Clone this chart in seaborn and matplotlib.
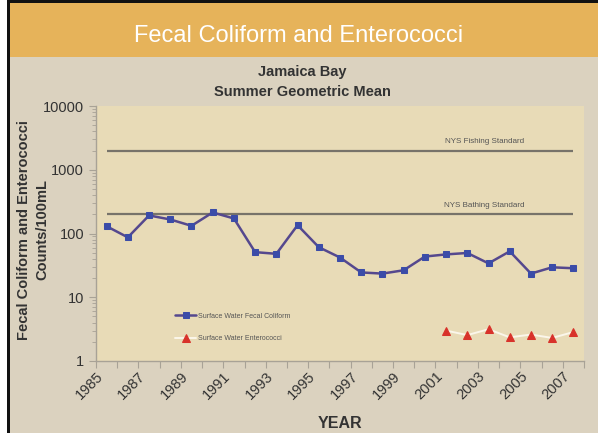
#!/usr/bin/env python3
"""
Jamaica Bay fecal coliform / enterococci summer geometric means (log scale).
"""

import numpy as np
import pandas as pd
import matplotlib
matplotlib.use("Agg")
import matplotlib.pyplot as plt
from matplotlib.patches import Rectangle
from matplotlib.ticker import LogLocator, NullFormatter, FixedLocator
import seaborn as sns

# === Data ===
fecal_years = list(range(1985, 2008))
fecal_values = [130, 87, 192, 166, 132, 214, 172, 51, 48, 135, 61, 42,
                24.5, 23.5, 26.5, 43.5, 47, 49.5, 34, 52.5, 23.5, 29.5, 28.5]
entero_years = list(range(2001, 2008))
entero_values = [3.0, 2.55, 3.15, 2.35, 2.6, 2.3, 2.85]
fishing_std = 2000
bathing_std = 200
tick_years = list(range(1985, 2009))
label_years = list(range(1985, 2009, 2))

# === Style ===
FIG_BG = "#dbd2bf"
PLOT_BG = "#e8dbb7"
HEADER = "#e6b35a"
FECAL_LINE = "#55488e"
FECAL_MARK = "#3b4ca8"
ENTERO_MARK = "#d8322a"
STD_LINE = "#77736a"
TEXT = "#333333"

sns.set_theme(style="ticks")
plt.rcParams["font.family"] = ["Liberation Sans", "DejaVu Sans"]

fig = plt.figure(figsize=(5.98, 4.33), dpi=100, facecolor=FIG_BG)

# header band + frame edges
fig.patches.append(Rectangle((0, 1 - 57 / 433), 1, 54 / 433, transform=fig.transFigure,
                             facecolor=HEADER, edgecolor="none", zorder=0))
fig.patches.append(Rectangle((0, 1 - 3 / 433), 1, 3 / 433, transform=fig.transFigure,
                             facecolor="#111111", edgecolor="none", zorder=1))
fig.patches.append(Rectangle((0, 0), 7 / 598, 1, transform=fig.transFigure,
                             facecolor="white", edgecolor="none", zorder=1))
fig.patches.append(Rectangle((7 / 598, 0), 3 / 598, 1, transform=fig.transFigure,
                             facecolor="#111111", edgecolor="none", zorder=1))

fig.text(0.5, 1 - 36 / 433, "Fecal Coliform and Enterococci", ha="center", va="center",
         color="white", fontsize=17)
fig.text(0.505, 1 - 72 / 433, "Jamaica Bay", ha="center", va="center",
         color=TEXT, fontsize=10.5, fontweight="bold")
fig.text(0.505, 1 - 92 / 433, "Summer Geometric Mean", ha="center", va="center",
         color=TEXT, fontsize=10.5, fontweight="bold")

# y axis title, placed by hand so both lines stay inside the frame
fig.text(33 / 598, 1 - 230 / 433, "Fecal Coliform and Enterococci\nCounts/100mL",
         ha="center", va="center", rotation=90, color=TEXT, fontsize=10.5,
         fontweight="bold", linespacing=1.35)

ax = fig.add_axes([96 / 598, 1 - 361 / 433, (584 - 96) / 598, (361 - 106) / 433])
ax.set_facecolor(PLOT_BG)

# points sit in the middle of each year slot
fecal_df = pd.DataFrame({"x": np.array(fecal_years) + 0.5, "value": fecal_values})
entero_df = pd.DataFrame({"x": np.array(entero_years) + 0.5, "value": entero_values})

ax.hlines([fishing_std, bathing_std], fecal_df["x"].min(), fecal_df["x"].max(),
          color=STD_LINE, lw=1.6, zorder=2)
ax.annotate("NYS Fishing Standard", (2003.3, fishing_std), xytext=(0, 4),
            textcoords="offset points", ha="center", va="bottom", fontsize=5.8, color="#555555")
ax.annotate("NYS Bathing Standard", (2003.3, bathing_std), xytext=(0, 4),
            textcoords="offset points", ha="center", va="bottom", fontsize=5.8, color="#555555")

sns.lineplot(data=fecal_df, x="x", y="value", ax=ax, color=FECAL_LINE, lw=1.8,
             marker="s", markersize=4.6, markerfacecolor=FECAL_MARK,
             markeredgecolor=FECAL_MARK, label="Surface Water Fecal Coliform", zorder=3)
sns.lineplot(data=entero_df, x="x", y="value", ax=ax, color="#fbf6ea", lw=1.4,
             marker="^", markersize=5.2, markerfacecolor=ENTERO_MARK,
             markeredgecolor=ENTERO_MARK, label="Surface Water Enterococci", zorder=3)

ax.set_yscale("log")
ax.set_ylim(1, 10000)
ax.set_xlim(1985, 2008)
ax.yaxis.set_major_locator(FixedLocator([1, 10, 100, 1000, 10000]))
ax.set_yticklabels(["1", "10", "100", "1000", "10000"])
ax.yaxis.set_minor_locator(LogLocator(base=10, subs=np.arange(2, 10)))
ax.yaxis.set_minor_formatter(NullFormatter())
ax.xaxis.set_major_locator(FixedLocator(tick_years))
ax.set_xticklabels([str(y) if y in label_years else "" for y in tick_years],
                   rotation=45, ha="right", rotation_mode="anchor")

for s in ["top", "right"]:
    ax.spines[s].set_visible(False)
for s in ["left", "bottom"]:
    ax.spines[s].set_color("#a8a296")
    ax.spines[s].set_linewidth(1.0)
ax.tick_params(axis="both", which="major", colors="#a8a296", labelcolor=TEXT,
               labelsize=10.5, length=5, width=0.8)
ax.tick_params(axis="y", which="minor", colors="#a8a296", length=3, width=0.6)
ax.tick_params(axis="x", pad=1)

ax.set_xlabel("YEAR", fontsize=11.5, fontweight="bold", color=TEXT, labelpad=10)
ax.set_ylabel("")

leg = ax.legend(loc="center left", bbox_to_anchor=(0.15, 0.132), frameon=False,
                fontsize=5, labelspacing=2.2, handlelength=3.0, handletextpad=0.2,
                labelcolor="#555555")

fig.savefig("out.png", dpi=100, facecolor=FIG_BG)
